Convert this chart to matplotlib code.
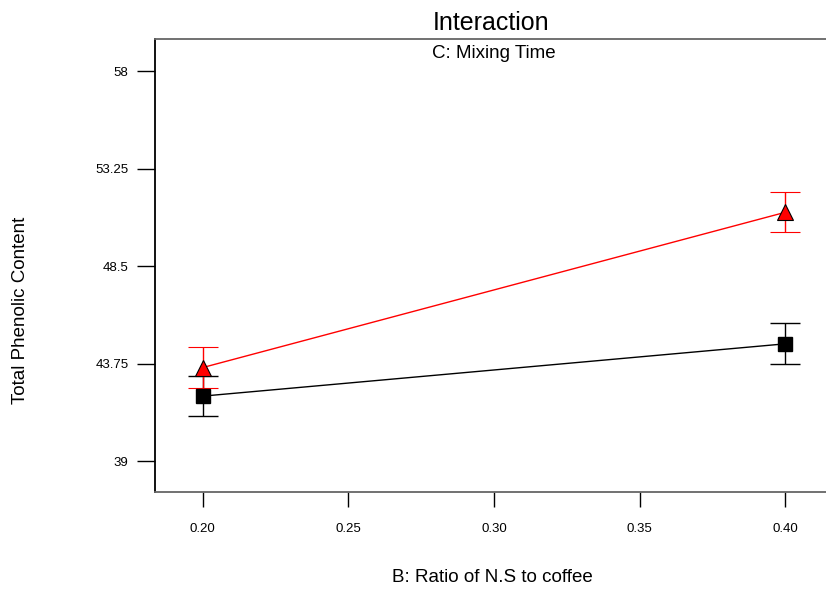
import matplotlib
matplotlib.use("Agg")
import matplotlib.pyplot as plt

plt.rcParams['font.family'] = ['Liberation Sans', 'DejaVu Sans']

# 数据
ratio = [0.20, 0.40]
red_mean = [43.55, 51.12]
red_err = [0.98, 0.98]
black_mean = [42.16, 44.71]
black_err = [0.97, 0.99]
x_ticks = [0.20, 0.25, 0.30, 0.35, 0.40]
y_ticks = [39, 43.75, 48.5, 53.25, 58]
y_tick_labels = ['39', '43.75', '48.5', '53.25', '58']

W, H = 826, 590
fig = plt.figure(figsize=(W / 100, H / 100), dpi=100)
# 右侧超出画面，与原图一致
ax = fig.add_axes([155 / W, (H - 492) / H, (833 - 155) / W, (492 - 39) / H])

ax.errorbar(ratio, black_mean, yerr=black_err, color='black', lw=1,
            marker='s', ms=10.5, mfc='black', mec='black',
            capsize=11, capthick=1, elinewidth=1)
ax.errorbar(ratio, red_mean, yerr=red_err, color='red', lw=1,
            marker='^', ms=11.5, mfc='red', mec='black', mew=0.8,
            capsize=11, capthick=1, elinewidth=1, ecolor='red')

ax.set_xlim(0.1837, 0.4163)
ax.set_ylim(37.49, 59.56)
ax.set_xticks(x_ticks)
ax.set_xticklabels(['%.2f' % v for v in x_ticks])
ax.set_yticks(y_ticks)
ax.set_yticklabels(y_tick_labels)
ax.tick_params(axis='both', labelsize=9.5, width=1, direction='out')
ax.tick_params(axis='x', length=11, pad=11)
ax.tick_params(axis='y', length=13, pad=6)

ax.spines['right'].set_visible(False)
ax.spines['top'].set_color('#666666')
ax.spines['bottom'].set_color('#666666')
ax.spines['left'].set_color('black')
for s in ['top', 'bottom', 'left']:
    ax.spines[s].set_linewidth(1.3)

fig.text(491 / W, 1 - 23 / H, 'Interaction', ha='center', va='center', fontsize=18)
fig.text(494 / W, 1 - 53 / H, 'C: Mixing Time', ha='center', va='center', fontsize=13.5)
fig.text(492 / W, 1 - 578 / H, 'B: Ratio of N.S to coffee', ha='center', va='center', fontsize=13.5)
fig.text(21 / W, 1 - 310 / H, 'Total Phenolic Content', ha='center', va='center',
         rotation=90, fontsize=13.5)

plt.savefig('out.png', dpi=100)
